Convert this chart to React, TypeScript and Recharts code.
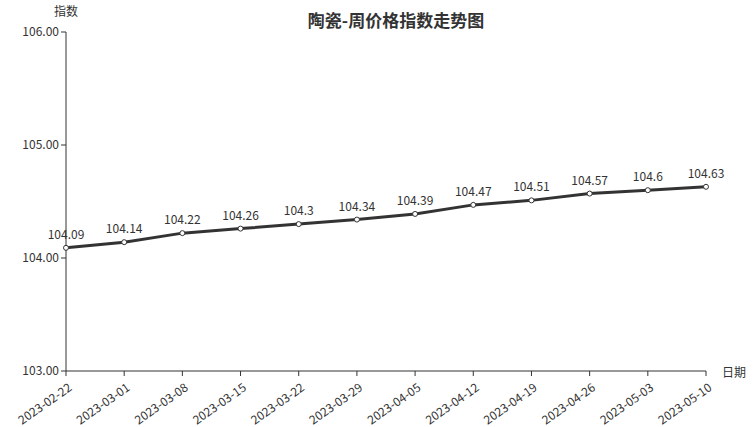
import React from 'react';
import { LineChart, Line, XAxis, YAxis, LabelList } from 'recharts';

const dates = [
  '2023-02-22', '2023-03-01', '2023-03-08', '2023-03-15', '2023-03-22', '2023-03-29',
  '2023-04-05', '2023-04-12', '2023-04-19', '2023-04-26', '2023-05-03', '2023-05-10'
];
const indexValues = [104.09, 104.14, 104.22, 104.26, 104.3, 104.34, 104.39, 104.47, 104.51, 104.57, 104.6, 104.63];
const yTicks = [103, 104, 105, 106];

const data = dates.map((d, i) => ({ date: d, value: indexValues[i] }));

const FONT = '"Noto Sans CJK SC", "Noto Sans", sans-serif';

const DateTick = (props: any) => {
  const { x, y, payload } = props;
  return (
    <g transform={`translate(${x + 2},${y + 5})`}>
      <text
        x={0}
        y={0}
        dy={8}
        textAnchor="end"
        fill="#333"
        fontSize={12}
        fontFamily={FONT}
        transform="rotate(-35)"
      >
        {payload.value}
      </text>
    </g>
  );
};

export default function App() {
  return (
    <div style={{ position: 'absolute', left: 0, top: 0, width: 753, height: 427, background: '#fff', fontFamily: FONT }}>
      <LineChart
        width={753}
        height={427}
        data={data}
        margin={{ top: 32, right: 47, left: 6, bottom: 0 }}
      >
        <text x={396} y={27} textAnchor="middle" fontSize={17} fontWeight="bold" fill="#333" fontFamily={FONT}>
          陶瓷-周价格指数走势图
        </text>
        <text x={66} y={16} textAnchor="middle" fontSize={12} fill="#333" fontFamily={FONT}>
          指数
        </text>
        <text x={722} y={377} textAnchor="start" fontSize={12} fill="#333" fontFamily={FONT}>
          日期
        </text>
        <XAxis
          dataKey="date"
          interval={0}
          height={56}
          stroke="#333"
          tickLine={{ stroke: '#333' }}
          tickSize={5}
          tick={<DateTick />}
        />
        <YAxis
          domain={[103, 106]}
          ticks={yTicks}
          width={60}
          stroke="#333"
          tickSize={5}
          tickFormatter={(v: number) => v.toFixed(2)}
          tick={{ fontSize: 12, fill: '#333', fontFamily: FONT }}
        />
        <Line
          type="linear"
          dataKey="value"
          stroke="#333"
          strokeWidth={3}
          dot={{ r: 2.5, fill: '#fff', stroke: '#333', strokeWidth: 1 }}
          isAnimationActive={false}
        >
          <LabelList dataKey="value" position="top" offset={9} fontSize={12} fill="#333" fontFamily={FONT} />
        </Line>
      </LineChart>
    </div>
  );
}
